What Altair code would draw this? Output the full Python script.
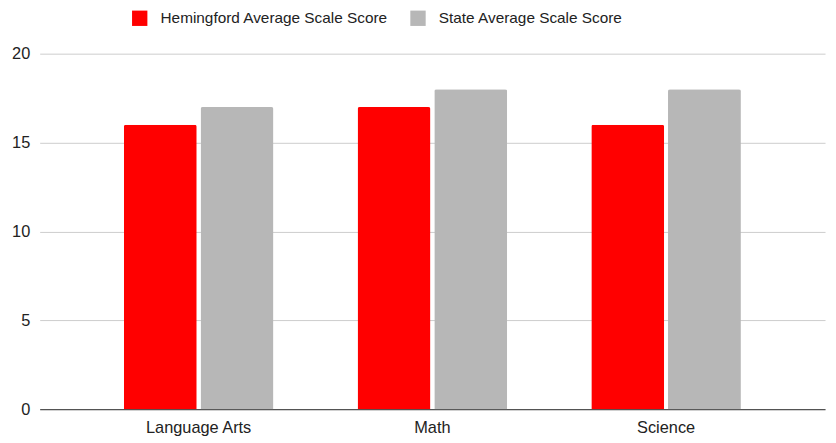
import altair as alt
import pandas as pd

subjects = ["Language Arts", "Math", "Science"]
series = ["Hemingford Average Scale Score", "State Average Scale Score"]
hemingford = [16, 17, 16]
state = [17, 18, 18]
colors = ["#ff0000", "#b7b7b7"]

rows = []
for i, s in enumerate(subjects):
    rows.append({"subject": s, "series": series[0], "value": hemingford[i]})
    rows.append({"subject": s, "series": series[1], "value": state[i]})
df = pd.DataFrame(rows)

font = "Liberation Sans"

chart = alt.Chart(df).mark_bar(cornerRadiusTopLeft=2, cornerRadiusTopRight=2).encode(
    x=alt.X("subject:N", sort=subjects, title=None,
            scale=alt.Scale(paddingInner=0.36, paddingOuter=0.36),
            axis=alt.Axis(labelAngle=0, ticks=False, domainColor="#333333", domainWidth=1,
                          labelFontSize=16.5, labelColor="#222222", labelFont=font,
                          labelPadding=11, grid=False)),
    xOffset=alt.XOffset("series:N", sort=series, scale=alt.Scale(paddingInner=0.05)),
    y=alt.Y("value:Q", title=None,
            scale=alt.Scale(domain=[0, 20], nice=False),
            axis=alt.Axis(values=[0, 5, 10, 15, 20], ticks=False, domain=False,
                          gridColor="#cccccc", labelFontSize=16.5, labelColor="#222222",
                          labelFont=font, labelPadding=10)),
    color=alt.Color("series:N", sort=series,
                    scale=alt.Scale(domain=series, range=colors),
                    legend=alt.Legend(title=None, orient="none", direction="horizontal",
                                      legendX=93, legendY=-44, symbolType="square",
                                      symbolSize=240, symbolStrokeWidth=0,
                                      labelFontSize=15.5, labelColor="#222222",
                                      labelFont=font, labelLimit=0, columnPadding=22,
                                      labelOffset=13, padding=0)),
).properties(
    width=793, height=359,
    autosize=alt.AutoSizeParams(type="none"),
    padding={"left": 32, "top": 44, "right": 3, "bottom": 32},
).configure_view(stroke=None)

chart.save("out.html", embed_options={"renderer": "svg", "actions": False})
